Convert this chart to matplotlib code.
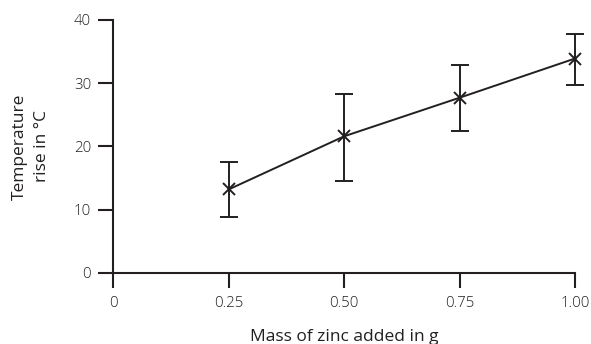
import matplotlib.pyplot as plt

mass = [0.25, 0.50, 0.75, 1.00]
temp_rise = [13.2, 21.6, 27.7, 33.9]
err_low = [8.9, 14.6, 22.4, 29.7]
err_high = [17.5, 28.3, 32.9, 37.8]

xticks = [0, 0.25, 0.50, 0.75, 1.00]
xtick_labels = ["0", "0.25", "0.50", "0.75", "1.00"]
yticks = [0, 10, 20, 30, 40]

ink = "#231f20"
plt.rcParams['font.family'] = ['Open Sans', 'DejaVu Sans']
plt.rcParams['font.weight'] = 'light'

fig = plt.figure(figsize=(5.91, 3.44), dpi=100)
ax = fig.add_axes([0.192, 0.207, 0.781, 0.735])

yerr = [[t - lo for t, lo in zip(temp_rise, err_low)],
        [hi - t for t, hi in zip(temp_rise, err_high)]]
bars = ax.errorbar(mass, temp_rise, yerr=yerr, color=ink, lw=1.4, marker="x",
                   markersize=8, mew=1.4, capsize=6.5, capthick=1.4, elinewidth=1.4)
# keep the caps at x=1.0 from being cut
bars.lines[0].set_clip_on(False)
for art in bars.lines[1] + bars.lines[2]:
    art.set_clip_on(False)

ax.set_xlim(0, 1.0)
ax.set_ylim(0, 40)
ax.set_xticks(xticks)
ax.set_xticklabels(xtick_labels)
ax.set_yticks(yticks)
for s in ["top", "right"]:
    ax.spines[s].set_visible(False)
for s in ["left", "bottom"]:
    ax.spines[s].set_linewidth(1.5)
    ax.spines[s].set_color(ink)
ax.tick_params(length=11, width=1.5, color=ink, labelcolor=ink, labelsize=10.8, pad=5)
ax.tick_params(axis="x", pad=6)

ax.set_xlabel("Mass of zinc added in g", fontsize=12.5, color=ink, labelpad=13)
ax.set_ylabel("Temperature\nrise in °C", fontsize=12.5, color=ink, labelpad=17,
              linespacing=1.55)

fig.savefig("out.png", dpi=100)
